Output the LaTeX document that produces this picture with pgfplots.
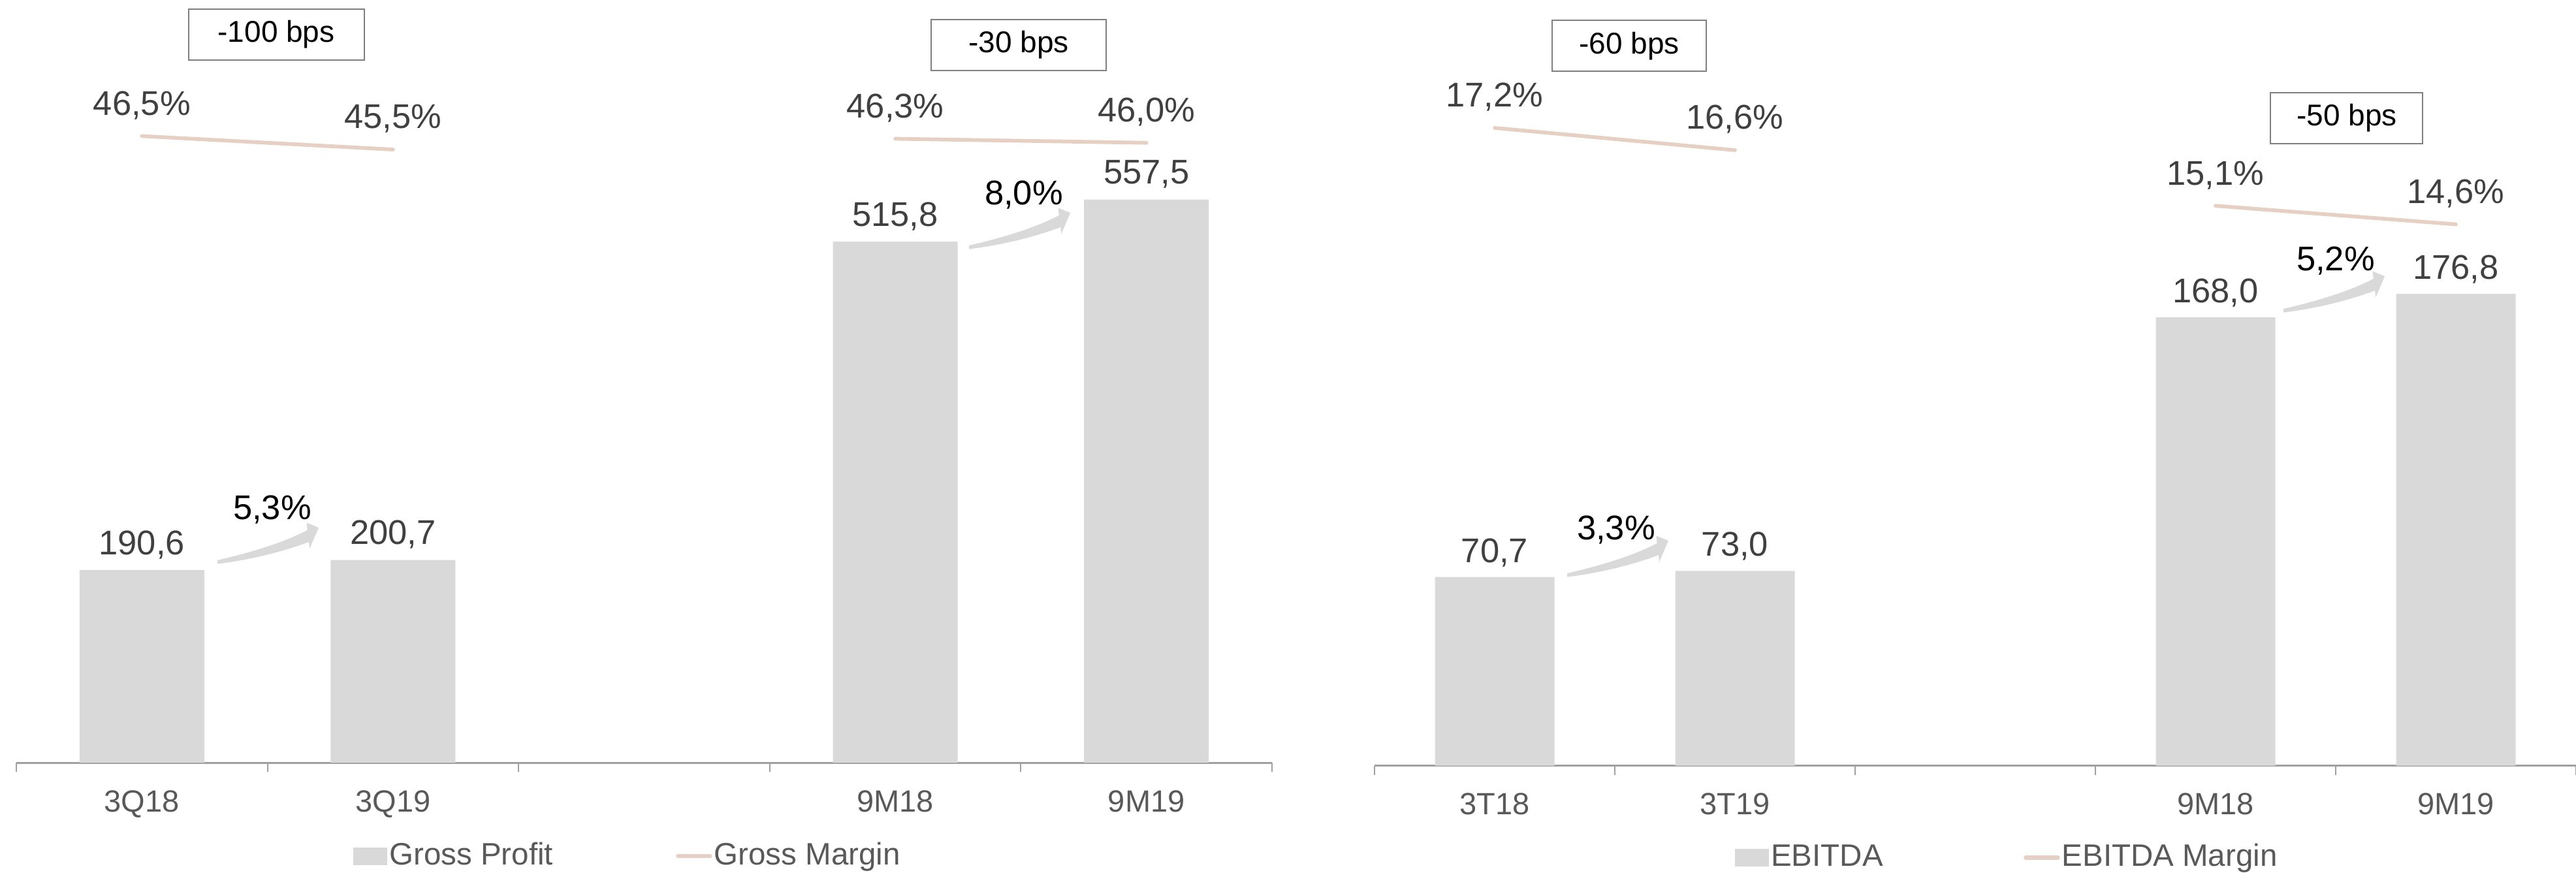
\documentclass[border=0pt]{standalone}
\usepackage{fontspec}
\setmainfont{Liberation Sans}
\usepackage{pgfplots}
\pgfplotsset{compat=1.18}
\definecolor{barfill}{HTML}{D9D9D9}
\definecolor{marg}{HTML}{E6CFC3}
\definecolor{labc}{HTML}{404040}
\definecolor{tickc}{HTML}{595959}
\definecolor{axc}{HTML}{A0A0A0}
\definecolor{boxc}{HTML}{7F7F7F}
\newcommand\fsL{\fontsize{10.5pt}{12pt}\selectfont}
\newcommand\fsT{\fontsize{9.4pt}{11pt}\selectfont}
\newcommand\fsG{\fontsize{9.5pt}{11pt}\selectfont}
\newcommand\fsB{\fontsize{9.2pt}{11pt}\selectfont}
\pgfkeys{/pgf/number format/assume math mode=true}

\newcommand\growtharrow[2]{%
  \fill[barfill, shift={(axis cs:#1,#2)}] (0pt,0.8pt) .. controls (12pt,3.6pt) and (21pt,6.6pt) .. (27.5pt,10.0pt)
    -- (27.3pt,12.3pt) -- (31pt,10.8pt) -- (28.2pt,4.3pt) -- (28.0pt,6.4pt)
    .. controls (20pt,3.4pt) and (10pt,0.9pt) .. (0pt,-0.3pt) -- cycle;}
\newcommand\growthlabel[3]{%
  \node[font=\fsL, text=black, anchor=base, inner sep=0pt, yshift=-3.76pt] at (axis cs:#1,#2) {#3};}
\newcommand\bpsbox[4]{%
  \node[draw=boxc, line width=0.4pt, minimum width=#3, minimum height=15.6pt, inner sep=0pt,
        font=\fsB, text=black] at (axis cs:#1,#2) {#4};}

\pgfplotsset{
  common/.style={
    scale only axis, anchor=south west,
    xmin=-0.5, xmax=4.5, ymin=0, clip=false,
  },
  baraxis/.style={
    common,
    axis x line*=bottom, axis y line=none,
    axis line style={axc, line width=0.6pt},
    xtick={0,1,3,4},
    major tick length=0pt,
    extra x ticks={-0.5,0.5,1.5,2.5,3.5,4.5},
    extra x tick labels={},
    extra x tick style={major tick length=2.8pt, tick align=outside, tick style={axc, line width=0.4pt}},
    xticklabel style={font=\fsT, text=tickc, anchor=base, yshift=-15.0pt},
    ybar,
    nodes near coords={\pgfmathprintnumber[fixed,fixed zerofill,precision=1,use comma]{\pgfplotspointmeta}},
    nodes near coords style={font=\fsL, text=labc, anchor=south, inner sep=0pt, text depth=0pt},
    legend columns=2,
    legend style={draw=none, fill=none, inner sep=0pt, anchor=west, font=\fsG, text=tickc,
      nodes={inner sep=0.6pt}},
  },
  margaxis/.style={
    common, hide axis,
    nodes near coords={\pgfmathprintnumber[fixed,fixed zerofill,precision=1,use comma]{\pgfplotspointmeta}\%},
    nodes near coords style={font=\fsL, text=labc, anchor=south, inner sep=0pt, text depth=0pt, yshift=5.85pt},
  },
  margline/.style={color=marg, line width=1.15pt, line cap=round, no markers},
}

\begin{document}
\begin{tikzpicture}
\useasboundingbox (0pt,0pt) rectangle (789pt,267.4pt);

% ---------------- Left chart: Gross Profit ----------------
\begin{axis}[baraxis, at={(5pt,33.8pt)}, width=384.6pt, height=233.6pt,
  ymax=755, bar width=38.2pt,
  xticklabels={3Q18,3Q19,9M18,9M19},
  nodes near coords style={yshift=4.6pt},
  legend style={at={(0.268,-0.1225)}, /tikz/every even column/.append style={column sep=37pt}},
]
\addplot[fill=barfill, draw=none,
  legend image code/.code={\fill[barfill] (0pt,-2.7pt) rectangle (10.4pt,2.7pt);}]
  coordinates {(0,190.6) (1,200.7) (3,515.8) (4,557.5)};
\addlegendentry{Gross Profit}
\addlegendimage{legend image code/.code={\draw[marg, line width=1.3pt, line cap=round] (0.5pt,0pt) -- (10.3pt,0pt);}}
\addlegendentry{Gross Margin}
\growtharrow{0.301}{197.8}
\growtharrow{3.294}{509.4}
\growthlabel{0.519}{252.7}{5,3\%}
\growthlabel{3.512}{564.3}{8,0\%}
\bpsbox{0.535}{720.7}{53.8pt}{-100 bps}
\bpsbox{3.491}{710.4}{53.6pt}{-30 bps}
\end{axis}
\begin{axis}[margaxis, at={(5pt,33.8pt)}, width=384.6pt, height=233.6pt, ymax=56.6]
\addplot[margline] coordinates {(0,46.5) (1,45.5)};
\addplot[margline] coordinates {(3,46.3) (4,46.0)};
\end{axis}

% ---------------- Right chart: EBITDA ----------------
\begin{axis}[baraxis, at={(421pt,32.86pt)}, width=368pt, height=234.54pt,
  ymax=286.9, bar width=36.6pt,
  xticklabels={3T18,3T19,9M18,9M19},
  nodes near coords style={yshift=4.3pt},
  legend style={at={(0.2995,-0.12)}, /tikz/every even column/.append style={column sep=42.5pt}},
]
\addplot[fill=barfill, draw=none,
  legend image code/.code={\fill[barfill] (0pt,-2.7pt) rectangle (10.4pt,2.7pt);}]
  coordinates {(0,70.7) (1,73.0) (3,168.0) (4,176.8)};
\addlegendentry{EBITDA}
\addlegendimage{legend image code/.code={\draw[marg, line width=1.3pt, line cap=round] (0.5pt,0pt) -- (10.3pt,0pt);}}
\addlegendentry{EBITDA Margin}
\growtharrow{0.3016}{71.1}
\growtharrow{3.283}{170.2}
\growthlabel{0.5054}{89.2}{3,3\%}
\growthlabel{3.50}{190.2}{5,2\%}
\bpsbox{0.560}{269.7}{47.2pt}{-60 bps}
\bpsbox{3.546}{242.6}{46.6pt}{-50 bps}
\end{axis}
\begin{axis}[margaxis, at={(421pt,32.86pt)}, width=368pt, height=234.54pt, ymax=20.65]
\addplot[margline] coordinates {(0,17.2) (1,16.6)};
\addplot[margline] coordinates {(3,15.1) (4,14.6)};
\end{axis}
\end{tikzpicture}
\end{document}
